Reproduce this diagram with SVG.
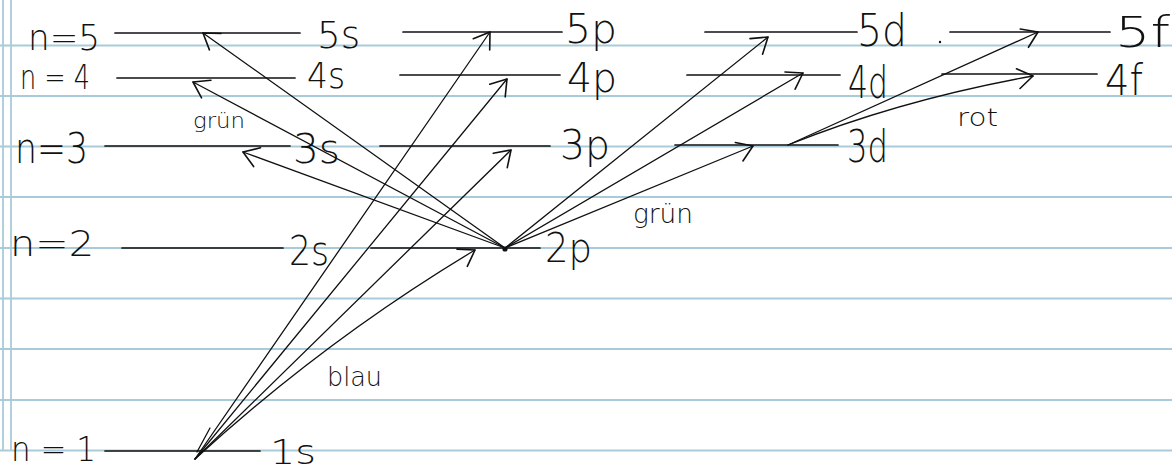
<svg xmlns="http://www.w3.org/2000/svg" width="1172" height="470" viewBox="0 0 1172 470">
<style>
.rule{stroke:#a9cbd9;stroke-width:2;fill:none}
.margin{stroke:#a9cbd9;stroke-width:1.8;fill:none}
.lvl{stroke:#111;stroke-width:1.7;fill:none;stroke-linecap:round}
.arr{stroke:#111;stroke-width:1.3;fill:none;stroke-linecap:round}
.lab{font-family:"DejaVu Sans","Liberation Sans",sans-serif;fill:#111;font-weight:200}
.note{font-family:"DejaVu Sans","Liberation Sans",sans-serif;fill:#111;font-weight:200}
</style>
<defs>
<marker id="ah" markerUnits="userSpaceOnUse" orient="auto" refX="0" refY="0" markerWidth="40" markerHeight="40" viewBox="-20 -20 40 40" overflow="visible">
<path d="M -15 -10 L 0 0 L -15 10" fill="none" stroke="#111" stroke-width="1.6" stroke-linecap="round" stroke-linejoin="round"/>
</marker>
</defs>
<rect x="0" y="0" width="1172" height="470" fill="#ffffff"/>
<g id="paper">
<line class="rule" x1="0" y1="45.5" x2="1172" y2="45.5"/>
<line class="rule" x1="0" y1="96" x2="1172" y2="96"/>
<line class="rule" x1="0" y1="146.5" x2="1172" y2="146.5"/>
<line class="rule" x1="0" y1="197" x2="1172" y2="197"/>
<line class="rule" x1="0" y1="248" x2="1172" y2="248"/>
<line class="rule" x1="0" y1="298.5" x2="1172" y2="298.5"/>
<line class="rule" x1="0" y1="349" x2="1172" y2="349"/>
<line class="rule" x1="0" y1="400" x2="1172" y2="400"/>
<line class="rule" x1="0" y1="450.5" x2="1172" y2="450.5"/>
<line class="margin" x1="3" y1="0" x2="3" y2="451"/>
<line class="margin" x1="11" y1="0" x2="11" y2="451"/>
</g>
<g id="n5">
<text class="lab" x="28" y="50" font-size="35" textLength="72" lengthAdjust="spacingAndGlyphs">n=5</text>
<line class="lvl" x1="115" y1="33" x2="300" y2="33"/>
<text class="lab" x="317" y="48" font-size="38" textLength="43" lengthAdjust="spacingAndGlyphs">5s</text>
</g>
<g id="n4">
<text class="lab" x="20" y="89" font-size="33" textLength="70" lengthAdjust="spacingAndGlyphs">n = 4</text>
<line class="lvl" x1="117" y1="78" x2="295" y2="78"/>
<text class="lab" x="307" y="88" font-size="36" textLength="38" lengthAdjust="spacingAndGlyphs">4s</text>
</g>
<g id="n3">
<text class="lab" x="15" y="163" font-size="42" textLength="73" lengthAdjust="spacingAndGlyphs">n=3</text>
<line class="lvl" x1="105" y1="146" x2="290" y2="146"/>
<text class="lab" x="293" y="163" font-size="40" textLength="47" lengthAdjust="spacingAndGlyphs">3s</text>
</g>
<g id="n2">
<text class="lab" x="10" y="256" font-size="35" textLength="84" lengthAdjust="spacingAndGlyphs">n=2</text>
<line class="lvl" x1="122" y1="248" x2="283" y2="248"/>
<text class="lab" x="289" y="265" font-size="40" textLength="40" lengthAdjust="spacingAndGlyphs">2s</text>
</g>
<g id="n1">
<text class="lab" x="11" y="461" font-size="33" textLength="85" lengthAdjust="spacingAndGlyphs">n = 1</text>
<line class="lvl" x1="105" y1="451" x2="260" y2="451" stroke-width="2.3"/>
<text class="lab" x="270" y="464" font-size="33" textLength="46" lengthAdjust="spacingAndGlyphs">1s</text>
</g>
<g id="p5">
<line class="lvl" x1="403" y1="32" x2="562" y2="32"/>
<text class="lab" x="565" y="43" font-size="40" textLength="52" lengthAdjust="spacingAndGlyphs">5p</text>
</g>
<g id="p4">
<line class="lvl" x1="400" y1="75" x2="560" y2="75"/>
<text class="lab" x="567" y="92" font-size="40" textLength="50" lengthAdjust="spacingAndGlyphs">4p</text>
</g>
<g id="p3">
<line class="lvl" x1="380" y1="146" x2="550" y2="146"/>
<text class="lab" x="560" y="159" font-size="40" textLength="50" lengthAdjust="spacingAndGlyphs">3p</text>
</g>
<g id="p2">
<line class="lvl" x1="371" y1="248" x2="540" y2="248"/>
<circle cx="505" cy="249" r="2.6" fill="#111"/>
<text class="lab" x="545" y="262" font-size="40" textLength="47" lengthAdjust="spacingAndGlyphs">2p</text>
</g>
<g id="d5">
<line class="lvl" x1="705" y1="32" x2="857" y2="32"/>
<text class="lab" x="857" y="46" font-size="44" textLength="50" lengthAdjust="spacingAndGlyphs">5d</text>
</g>
<g id="d4">
<line class="lvl" x1="687" y1="75" x2="840" y2="75"/>
<text class="lab" x="848" y="98" font-size="44" textLength="40" lengthAdjust="spacingAndGlyphs">4d</text>
</g>
<g id="d3">
<line class="lvl" x1="675" y1="145" x2="838" y2="145"/>
<text class="lab" x="847" y="162" font-size="44" textLength="41" lengthAdjust="spacingAndGlyphs">3d</text>
</g>
<g id="f5">
<circle cx="940" cy="42" r="1.2" fill="#111"/>
<line class="lvl" x1="950" y1="32" x2="1110" y2="32"/>
<text class="lab" x="1115" y="47" font-size="42" textLength="55" lengthAdjust="spacingAndGlyphs">5f</text>
</g>
<g id="f4">
<line class="lvl" x1="942" y1="74" x2="1097" y2="74"/>
<text class="lab" x="1105" y="95" font-size="42" textLength="38" lengthAdjust="spacingAndGlyphs">4f</text>
</g>
<g id="connectors">
<line class="arr" x1="505" y1="248" x2="203" y2="33" marker-end="url(#ah)"/>
<line class="arr" x1="505" y1="248" x2="193" y2="82" marker-end="url(#ah)"/>
<line class="arr" x1="505" y1="248" x2="243" y2="152" marker-end="url(#ah)"/>
<line class="arr" x1="505" y1="248" x2="768" y2="37" marker-end="url(#ah)"/>
<line class="arr" x1="505" y1="248" x2="803" y2="73" marker-end="url(#ah)"/>
<line class="arr" x1="505" y1="248" x2="753" y2="146" marker-end="url(#ah)"/>
<line class="arr" x1="195" y1="459" x2="490" y2="32" marker-end="url(#ah)"/>
<line class="arr" x1="195" y1="459" x2="507" y2="79" marker-end="url(#ah)"/>
<line class="arr" x1="195" y1="459" x2="511" y2="150" marker-end="url(#ah)"/>
<path class="arr" d="M195 459 Q 325 340 475 250" marker-end="url(#ah)"/>
<line class="arr" x1="788" y1="145" x2="1038" y2="32" marker-end="url(#ah)"/>
<path class="arr" d="M788 145 Q 900 100 1033 76" marker-end="url(#ah)"/>
<line class="arr" x1="197" y1="452" x2="210" y2="428"/>
</g>
<g id="notes">
<text class="note" x="193" y="128" font-size="22" textLength="52" lengthAdjust="spacingAndGlyphs">grün</text>
<text class="note" x="633" y="223" font-size="26" textLength="60" lengthAdjust="spacingAndGlyphs">grün</text>
<text class="note" x="957" y="126" font-size="24" textLength="41" lengthAdjust="spacingAndGlyphs">rot</text>
<text class="note" x="327" y="386" font-size="26" textLength="55" lengthAdjust="spacingAndGlyphs">blau</text>
</g>
</svg>
